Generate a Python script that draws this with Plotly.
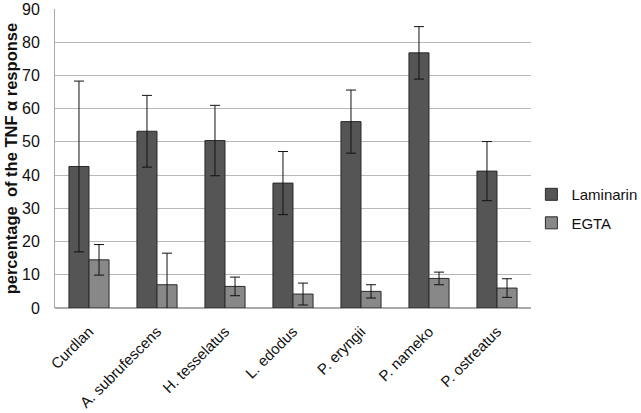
import plotly.graph_objects as go

categories = ["Curdlan", "A. subrufescens", "H. tesselatus", "L. edodus",
              "P. eryngii", "P. nameko", "P. ostreatus"]
laminarin = [42.6, 53.2, 50.4, 37.6, 56.1, 76.8, 41.2]
laminarin_err = [25.7, 10.8, 10.6, 9.5, 9.5, 7.9, 8.9]
egta = [14.5, 7.0, 6.5, 4.2, 5.0, 8.9, 6.0]
egta_err = [4.6, 9.5, 2.8, 3.3, 2.0, 1.9, 2.8]
y_ticks = [0, 10, 20, 30, 40, 50, 60, 70, 80, 90]
y_title = "<b>percentage  of the TNF α response</b>"

fig = go.Figure()
fig.add_trace(go.Bar(
    name="Laminarin", x=categories, y=laminarin, legendgroup="a",
    error_y=dict(type="data", array=laminarin_err, color="#111111", thickness=1, width=5),
    marker=dict(color="#555555", line=dict(color="#2a2a2a", width=1)),
))
fig.add_trace(go.Bar(
    name="EGTA", x=categories, y=egta, legendgroup="b",
    error_y=dict(type="data", array=egta_err, color="#111111", thickness=1, width=5),
    marker=dict(color="#888888", line=dict(color="#2a2a2a", width=1)),
))

fig.add_annotation(text=y_title, textangle=-90, xref="paper", yref="paper",
                   x=-0.092, y=0.498, xanchor="center", yanchor="middle",
                   showarrow=False, font=dict(size=16.5, color="#111111"))

fig.update_layout(
    width=641, height=413,
    margin=dict(l=55, r=110, t=9, b=105),
    paper_bgcolor="white", plot_bgcolor="white",
    barmode="group", bargap=0.41, bargroupgap=0,
    font=dict(family="Liberation Sans, Arial, sans-serif", color="#111111"),
    showlegend=True,
    legend=dict(xref="container", yref="container", x=0.829, y=0.495,
                xanchor="left", yanchor="middle",
                font=dict(size=15), traceorder="grouped", tracegroupgap=6,
                itemwidth=30),
    xaxis=dict(tickangle=-45, tickfont=dict(size=15), showline=False,
               ticks="outside", ticklen=8, tickcolor="rgba(255,255,255,0)",
               automargin=False),
    yaxis=dict(range=[0, 90], tickvals=y_ticks,
               tickfont=dict(size=16),
               showgrid=True, gridcolor="#b8b8b8", gridwidth=1,
               showline=True, linecolor="#aaaaaa", linewidth=1,
               ticks="outside", ticklen=11, tickcolor="rgba(255,255,255,0)",
               zeroline=True, zerolinecolor="#aaaaaa",
               automargin=False),
)

fig.write_html("out.html", post_script="document.body.style.margin='0';",
               config={"displayModeBar": False})
